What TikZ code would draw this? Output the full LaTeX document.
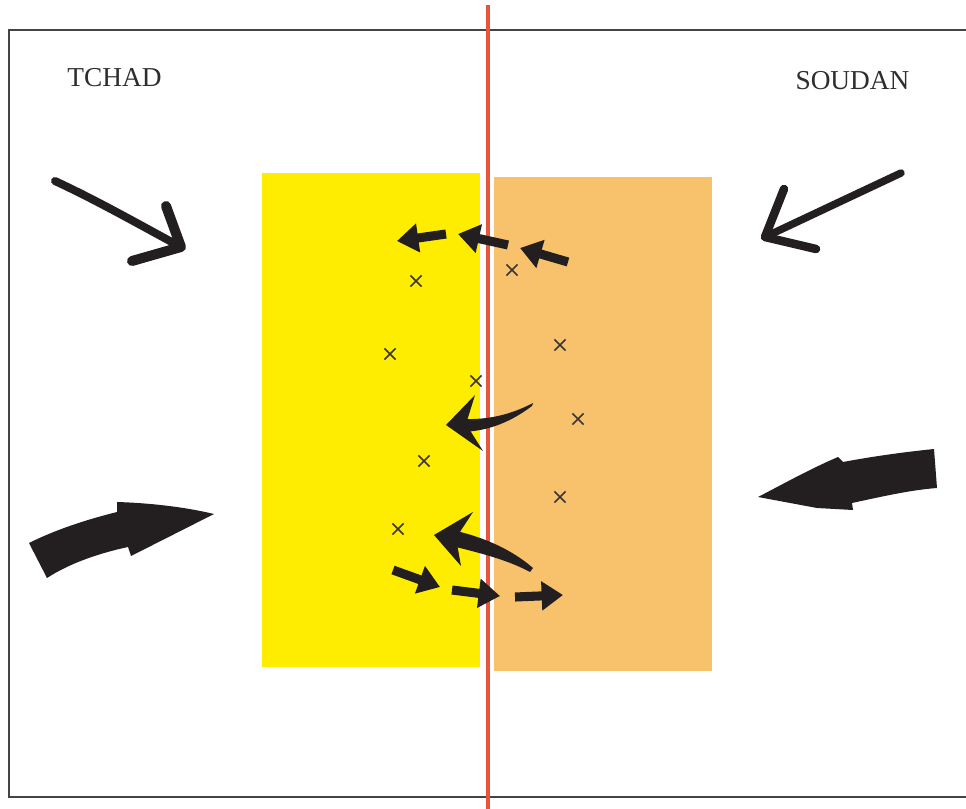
\documentclass[tikz,border=0pt]{standalone}
\usepackage{fontspec}
\setmainfont{Liberation Serif}
\usetikzlibrary{arrows.meta,shapes.misc}
\definecolor{zoneY}{HTML}{FFED00}
\definecolor{zoneO}{HTML}{F7C26B}
\definecolor{borderred}{HTML}{E9553B}
\definecolor{ink}{HTML}{231F20}
\definecolor{framec}{HTML}{444444}
\definecolor{labelc}{HTML}{2E2E2E}
\begin{document}
\begin{tikzpicture}[x=0.75pt,y=-0.75pt,
  country/.style={font=\fontsize{20.5}{24}\selectfont, text=labelc, anchor=base, inner sep=0pt},
  crossmark/.style={cross out, draw=ink!90, line width=1.3pt, minimum size=7pt, inner sep=0pt},
  blockarrow/.style={draw=ink, line width=6.8pt, -{Triangle[length=16pt,width=21pt]}},
  handarrow/.style={draw=ink, line width=6pt, line cap=round, line join=round},
  inkfill/.style={fill=ink}
]
\clip (0,0) rectangle (966,809);
\fill[white] (0,0) rectangle (966,809);

% frame
\draw[framec, line width=1.6pt] (9,30) rectangle (990,797);

% zones
\fill[zoneY] (262,173) rectangle (480,667);
\fill[zoneO] (494,177) rectangle (712,671);

% border line
\draw[borderred, line width=2.6pt] (488,5) -- (488,815);

% labels
\node[country] (tchad) at (114.5,87) {TCHAD};
\node[country] (soudan) at (852.5,90) {SOUDAN};

% crosses
\foreach \n/\p in {c1/{(416,281)}, c2/{(390,354)}, c3/{(476,381)}, c4/{(424,461)}, c5/{(398,529)},
                   c6/{(512,270)}, c7/{(560,345)}, c8/{(578,419)}, c9/{(560,497)}}
  \node[crossmark] (\n) at \p {};

% hand-drawn arrow, top left
\coordinate (tlTail) at (55,181);
\coordinate (tlTip) at (181,247);
\coordinate (tlB1) at (166,206);
\coordinate (tlB2) at (132,261);
\draw[handarrow] (tlTail) .. controls (100,202) and (140,225) .. (tlTip);
\draw[handarrow, line width=7.5pt] (tlB1) -- (tlTip) -- (tlB2);

% hand-drawn arrow, top right
\coordinate (trTail) at (901,173);
\coordinate (trTip) at (765,237);
\coordinate (trB1) at (784,189);
\coordinate (trB2) at (816,249);
\draw[handarrow, line width=5.6pt] (trTail) -- (trTip);
\draw[handarrow, line width=6.4pt] (trB1) -- (trTip) -- (trB2);

% big thick arrow, left
\fill[ink] (29,543) .. controls (55,530) and (85,520) .. (117,512) -- (117,502)
  .. controls (150,503) and (185,507) .. (214,514) -- (131,556) -- (128,547)
  .. controls (100,553) and (70,563) .. (47,578) -- cycle;

% big thick arrow, right
\fill[ink] (934,449) -- (937,488) .. controls (910,490) and (880,497) .. (852,503)
  -- (853,510) -- (817,508) -- (758,497)
  .. controls (785,483) and (810,469) .. (838,457) -- (843,462)
  .. controls (875,456) and (905,452) .. (934,449) -- cycle;

% small block arrows, top
\coordinate (aT1) at (446,234); \coordinate (aP1) at (397,241);
\coordinate (aT2) at (508,245); \coordinate (aP2) at (458,234);
\coordinate (aT3) at (568,262); \coordinate (aP3) at (520,248);
\draw[blockarrow] (aT1) -- (aP1);
\draw[blockarrow] (aT2) -- (aP2);
\draw[blockarrow] (aT3) -- (aP3);

% small block arrows, bottom
\coordinate (bT1) at (393,570); \coordinate (bP1) at (440,587);
\coordinate (bT2) at (452,590); \coordinate (bP2) at (500,596);
\coordinate (bT3) at (515,597); \coordinate (bP3) at (563,595);
\draw[blockarrow] (bT1) -- (bP1);
\draw[blockarrow] (bT2) -- (bP2);
\draw[blockarrow] (bT3) -- (bP3);

% curved tapered arrow, middle
\fill[ink] (446,425) -- (475,395) -- (466,424) -- (483,451) -- cycle;
\fill[ink] (462,419) .. controls (490,420) and (512,414) .. (533,403)
  -- (532,406) .. controls (512,421) and (490,431) .. (462,432) -- cycle;

% curved tapered arrow, lower
\fill[ink] (434,535) -- (473,512) -- (456,538) -- (461,566) -- cycle;
\fill[ink] (452,530) .. controls (480,536) and (510,548) .. (533,568)
  -- (530,572) .. controls (508,560) and (480,553) .. (452,546) -- cycle;
\end{tikzpicture}
\end{document}
